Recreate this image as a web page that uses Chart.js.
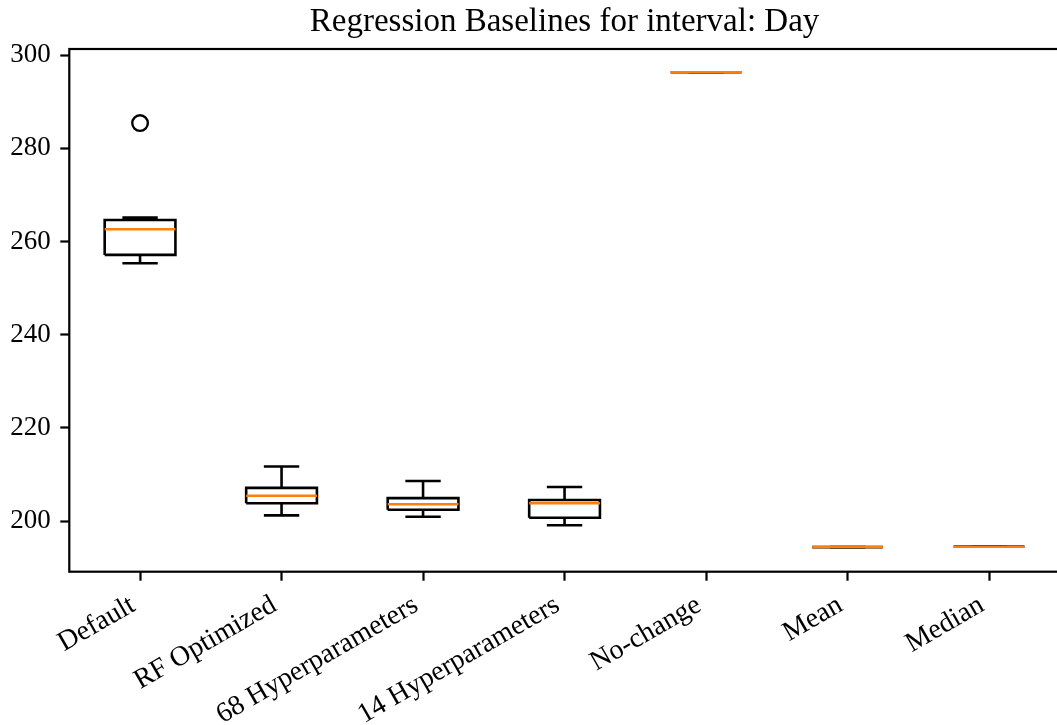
<!DOCTYPE html>
<html>
<head>
<meta charset="utf-8">
<script src="https://cdn.jsdelivr.net/npm/chart.js@4.4.1/dist/chart.umd.min.js"></script>
<style>
  html, body { margin: 0; padding: 0; overflow: hidden; background: #ffffff; }
  #wrap { position: relative; width: 1070px; height: 725px; }
</style>
</head>
<body>
<div id="wrap"><canvas id="c"></canvas></div>
<script>
// ---- data ----
const categories = ['Default', 'RF Optimized', '68 Hyperparameters', '14 Hyperparameters', 'No-change', 'Mean', 'Median'];
const whiskerLow  = [255.3, 201.2, 200.9, 199.1, 296.3, 194.4, 194.5];
const q1          = [257.1, 203.8, 202.4, 200.7, 296.3, 194.4, 194.5];
const medians     = [262.6, 205.4, 203.6, 203.8, 296.3, 194.4, 194.5];
const q3          = [264.6, 207.1, 204.9, 204.5, 296.3, 194.4, 194.5];
const whiskerHigh = [265.1, 211.7, 208.6, 207.3, 296.3, 194.4, 194.5];
const outliers    = [[285.4], [], [], [], [], [], []];
const yTicks      = [200, 220, 240, 260, 280, 300];
const titleText   = 'Regression Baselines for interval: Day';

// ---- geometry in data units (matplotlib boxplot defaults) ----
const BOX_HALF = 0.25, CAP_HALF = 0.125;
const FONT = '"Liberation Serif", "Times New Roman", serif';

const gap = (x) => ({ x: x, y: null });
const boxPts = [], whiskPts = [], capPts = [], medPts = [], outPts = [];
categories.forEach((c, i) => {
  const x = i + 1;
  boxPts.push({x: x - BOX_HALF, y: q1[i]}, {x: x + BOX_HALF, y: q1[i]},
              {x: x + BOX_HALF, y: q3[i]}, {x: x - BOX_HALF, y: q3[i]},
              {x: x - BOX_HALF, y: q1[i]}, gap(x));
  whiskPts.push({x: x, y: q1[i]}, {x: x, y: whiskerLow[i]}, gap(x),
                {x: x, y: q3[i]}, {x: x, y: whiskerHigh[i]}, gap(x));
  capPts.push({x: x - CAP_HALF, y: whiskerLow[i]}, {x: x + CAP_HALF, y: whiskerLow[i]}, gap(x),
              {x: x - CAP_HALF, y: whiskerHigh[i]}, {x: x + CAP_HALF, y: whiskerHigh[i]}, gap(x));
  medPts.push({x: x - BOX_HALF, y: medians[i]}, {x: x + BOX_HALF, y: medians[i]}, gap(x));
  outliers[i].forEach(v => outPts.push({x: x, y: v}));
});

const lineDs = (data, color, width, order) => ({
  type: 'line', data, borderColor: color, borderWidth: width, pointRadius: 0,
  pointHoverRadius: 0, fill: false, spanGaps: false, tension: 0, order,
  borderCapStyle: 'butt', borderJoinStyle: 'miter'
});

const framePlugin = {
  id: 'frame',
  afterDatasetsDraw(chart) {
    const a = chart.chartArea, ctx = chart.ctx;
    ctx.save();
    ctx.strokeStyle = '#000';
    ctx.lineWidth = 2.2;
    ctx.strokeRect(a.left, a.top, a.right - a.left, a.bottom - a.top);
    ctx.restore();
  }
};

new Chart(document.getElementById('c'), {
  type: 'line',
  data: {
    datasets: [
      lineDs(medPts, '#ff7f0e', 2.5, 0),
      {
        type: 'scatter', data: outPts, pointRadius: 7.8, pointHoverRadius: 7.8,
        pointBorderWidth: 2.4, borderColor: '#000', backgroundColor: 'rgba(0,0,0,0)',
        pointBackgroundColor: 'rgba(0,0,0,0)', pointBorderColor: '#000', showLine: false, order: 1
      },
      lineDs(boxPts, '#000', 2.6, 2),
      lineDs(whiskPts, '#000', 2.6, 3),
      lineDs(capPts, '#000', 2.6, 4)
    ]
  },
  options: {
    responsive: true,
    maintainAspectRatio: false,
    animation: false,
    events: [],
    layout: { padding: { left: 0, right: 5.6, top: 0, bottom: 0 } },
    plugins: {
      legend: { display: false },
      tooltip: { enabled: false },
      title: {
        display: true, text: titleText, color: '#000', fullSize: false,
        font: { family: FONT, size: 33, weight: 'normal' },
        padding: { top: 2.6, bottom: 6.8 }
      }
    },
    scales: {
      x: {
        type: 'linear', min: 0.5, max: 7.5,
        afterBuildTicks: (s) => { s.ticks = categories.map((c, i) => ({ value: i + 1 })); },
        afterFit: (s) => { s.height = 153.3; },
        ticks: {
          autoSkip: false, maxRotation: 30, minRotation: 30, color: '#000', padding: 8,
          labelOffset: -7,
          font: { family: FONT, size: 28 },
          callback: (v) => categories[Math.round(v) - 1]
        },
        grid: { display: true, drawOnChartArea: false, drawTicks: true, tickLength: 9, tickWidth: 2.2, tickColor: '#000' },
        border: { display: false }
      },
      y: {
        type: 'linear', min: 189.12, max: 301.29,
        afterBuildTicks: (s) => { s.ticks = yTicks.map(v => ({ value: v })); },
        afterFit: (s) => { s.width = 69.3; },
        ticks: {
          color: '#000', padding: 9.5, font: { family: FONT, size: 27 },
          callback: (v) => String(v)
        },
        grid: { display: true, drawOnChartArea: false, drawTicks: true, tickLength: 9, tickWidth: 2.2, tickColor: '#000' },
        border: { display: false }
      }
    }
  },
  plugins: [framePlugin]
});
</script>
</body>
</html>
